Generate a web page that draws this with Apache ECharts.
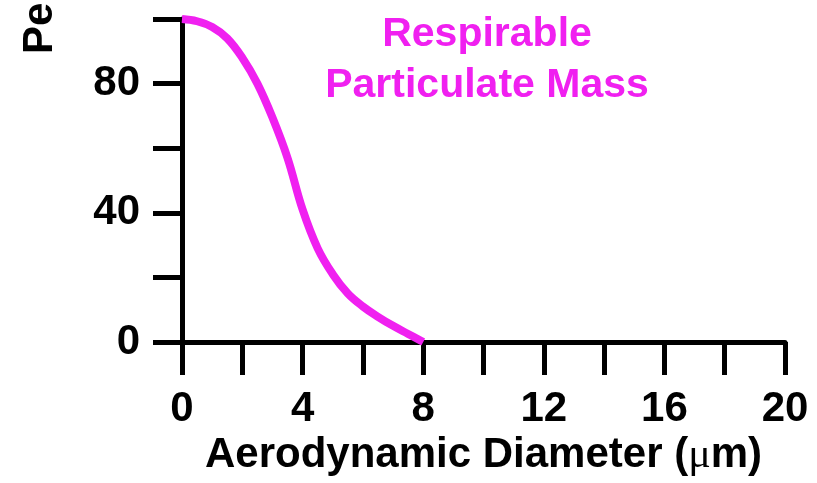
<!DOCTYPE html>
<html>
<head>
<meta charset="utf-8">
<script src="https://cdn.jsdelivr.net/npm/echarts@6/dist/echarts.min.js"></script>
<style>
  html, body { margin: 0; padding: 0; background: #fff; }
  #chart { width: 817px; height: 483px; }
</style>
</head>
<body>
<div id="chart"></div>
<script>
  // aerodynamic diameter (um) and respirable fraction (%)
  var diameter = [0, 0.5, 1, 1.5, 2, 2.5, 3, 3.5, 4, 4.5, 5, 5.5, 6, 6.5, 7, 7.5, 8];
  var percent = [100, 99.3, 97.5, 94, 88, 80, 69.5, 57, 41, 29, 21, 15, 11, 7.8, 5, 2.5, 0];
  var xLabels = [0, 4, 8, 12, 16, 20];
  var yLabels = [0, 40, 80];

  var font = '"Liberation Sans", Arial, Helvetica, sans-serif';
  var magenta = '#f020f0';

  var myChart = echarts.init(document.getElementById('chart'));
  var option = {
    animation: false,
    grid: {
      left: 182,
      right: 32,
      top: 19,
      bottom: 141,
      containLabel: false
    },
    xAxis: {
      type: 'value',
      min: 0,
      max: 20,
      interval: 2,
      name: '{a|Aerodynamic Diameter (}{m|μ}{a|m)}',
      nameLocation: 'middle',
      nameGap: 86,
      nameTextStyle: {
        rich: {
          a: { color: '#000', fontSize: 42, fontWeight: 'bold', fontFamily: font },
          m: { color: '#000', fontSize: 42, fontWeight: 'normal', fontFamily: '"Liberation Serif", serif' }
        }
      },
      axisLine: { lineStyle: { color: '#000', width: 5 } },
      axisTick: { show: true, length: 33, lineStyle: { color: '#000', width: 5 } },
      axisLabel: {
        margin: 46,
        color: '#000',
        fontSize: 42,
        fontWeight: 'bold',
        fontFamily: font,
        formatter: function (v) {
          return xLabels.indexOf(v) >= 0 ? String(v) : '';
        }
      },
      splitLine: { show: false }
    },
    yAxis: {
      type: 'value',
      min: 0,
      max: 100,
      interval: 20,
      axisLine: { show: true, lineStyle: { color: '#000', width: 5 } },
      axisTick: { show: true, length: 29, lineStyle: { color: '#000', width: 5 } },
      axisLabel: {
        margin: 42,
        color: '#000',
        fontSize: 42,
        fontWeight: 'bold',
        fontFamily: font,
        formatter: function (v) {
          return yLabels.indexOf(v) >= 0 ? String(v) : '';
        }
      },
      splitLine: { show: false }
    },
    graphic: [{
      type: 'text',
      x: 40,
      y: 54,
      rotation: Math.PI / 2,
      style: {
        text: 'Percent',
        fill: '#000',
        font: 'bold 42px ' + font,
        textAlign: 'left',
        textVerticalAlign: 'middle'
      }
    }, {
      type: 'text',
      x: 487,
      y: 60,
      style: {
        text: 'Respirable\nParticulate Mass',
        fill: magenta,
        font: 'bold 41px ' + font,
        lineHeight: 51,
        textAlign: 'center',
        textVerticalAlign: 'middle'
      }
    }],
    series: [{
      type: 'line',
      data: diameter.map(function (d, i) { return [d, percent[i]]; }),
      smooth: 0.4,
      symbol: 'none',
      lineStyle: { color: magenta, width: 8 },
      z: 1
    }]
  };
  myChart.setOption(option);
</script>
</body>
</html>
